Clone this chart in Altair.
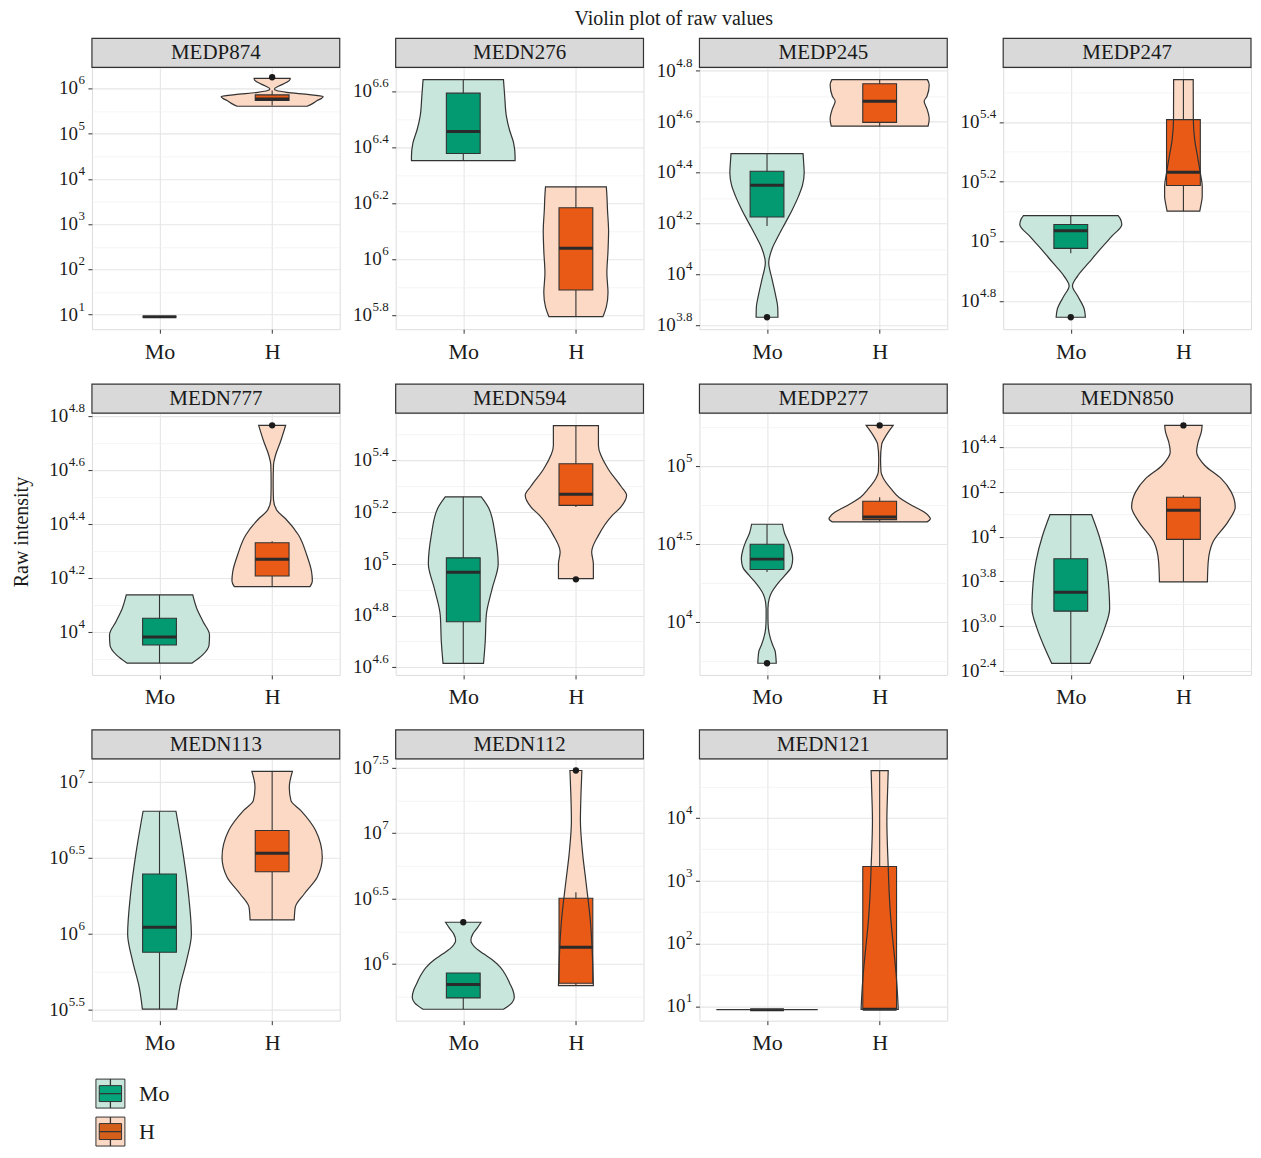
import altair as alt
import pandas as pd

FONT = "Liberation Serif"
TEXT = "#1A1A1A"
DARK = "#333333"

TITLE = "Violin plot of raw values"
Y_TITLE = "Raw intensity"
GROUPS = ["Mo", "H"]
GROUP_POS = [1, 2]
BOX_FILL = ["#039A72", "#E95A17"]
VIOLIN_FILL = ["#C8E6DC", "#FBD9C5"]
LEGEND_BOX_FILL = ["#04A57A", "#D45F1B"]
LEGEND_KEY_FILL = ["#C8E6DC", "#FBD9C5"]

PANELS = ["MEDP874", "MEDN276", "MEDP245", "MEDP247",
          "MEDN777", "MEDN594", "MEDP277", "MEDN850",
          "MEDN113", "MEDN112", "MEDN121"]

# ---------------- MEDP874 ----------------
MEDP874_RANGE = [0.68, 6.46]
MEDP874_TICKS = [1, 2, 3, 4, 5, 6]
MEDP874_TICK_EXP = ["1", "2", "3", "4", "5", "6"]
MEDP874_MINOR = [1.5, 2.5, 3.5, 4.5, 5.5]
MEDP874_MO_VIOLIN = []
MEDP874_H_VIOLIN = [(5.603, 0.31), (5.65, 0.35), (5.728, 0.40), (5.78, 0.44), (5.816, 0.453),
                    (5.86, 0.33), (5.91, 0.13), (5.95, 0.04), (5.985, 0.02), (6.05, 0.06),
                    (6.13, 0.13), (6.206, 0.16), (6.22, 0.16)]
MEDP874_MO_BOX = [0.956, 0.956, 0.956, 0.956, 0.956]
MEDP874_H_BOX = [5.618, 5.728, 5.765, 5.853, 5.95]
MEDP874_MO_OUT = []
MEDP874_H_OUT = [6.243]
MEDP874_MO_FLAT = []

# ---------------- MEDN276 ----------------
MEDN276_RANGE = [5.75, 6.686]
MEDN276_TICKS = [5.8, 6.0, 6.2, 6.4, 6.6]
MEDN276_TICK_EXP = ["5.8", "6", "6.2", "6.4", "6.6"]
MEDN276_MINOR = [5.9, 6.1, 6.3, 6.5]
MEDN276_MO_VIOLIN = [(6.353, 0.46), (6.368, 0.46), (6.416, 0.447), (6.463, 0.41),
                     (6.511, 0.383), (6.582, 0.368), (6.642, 0.357)]
MEDN276_H_VIOLIN = [(5.795, 0.24), (5.83, 0.27), (5.88, 0.285), (5.95, 0.275), (6.03, 0.285),
                    (6.10, 0.29), (6.18, 0.28), (6.23, 0.275), (6.259, 0.27)]
MEDN276_MO_BOX = [6.353, 6.378, 6.457, 6.594, 6.642]
MEDN276_H_BOX = [5.795, 5.890, 6.039, 6.184, 6.259]
MEDN276_MO_OUT = []
MEDN276_H_OUT = []
MEDN276_MO_FLAT = []

# ---------------- MEDP245 ----------------
MEDP245_RANGE = [3.784, 4.813]
MEDP245_TICKS = [3.8, 4.0, 4.2, 4.4, 4.6, 4.8]
MEDP245_TICK_EXP = ["3.8", "4", "4.2", "4.4", "4.6", "4.8"]
MEDP245_MINOR = [3.9, 4.1, 4.3, 4.5, 4.7]
MEDP245_MO_VIOLIN = [(3.831, 0.097), (3.87, 0.095), (3.92, 0.075), (3.98, 0.045), (4.046, 0.015),
                     (4.10, 0.045), (4.15, 0.10), (4.20, 0.16), (4.25, 0.22), (4.307, 0.28),
                     (4.35, 0.315), (4.40, 0.33), (4.44, 0.325), (4.474, 0.32)]
MEDP245_H_VIOLIN = [(4.582, 0.43), (4.61, 0.44), (4.65, 0.42), (4.68, 0.395), (4.70, 0.42),
                    (4.745, 0.44), (4.765, 0.424)]
MEDP245_MO_BOX = [4.19, 4.225, 4.350, 4.405, 4.474]
MEDP245_H_BOX = [4.582, 4.597, 4.680, 4.749, 4.765]
MEDP245_MO_OUT = [3.831]
MEDP245_H_OUT = []
MEDP245_MO_FLAT = []

# ---------------- MEDP247 ----------------
MEDP247_RANGE = [4.705, 5.583]
MEDP247_TICKS = [4.8, 5.0, 5.2, 5.4]
MEDP247_TICK_EXP = ["4.8", "5", "5.2", "5.4"]
MEDP247_MINOR = [4.9, 5.1, 5.3, 5.5]
MEDP247_MO_VIOLIN = [(4.745, 0.13), (4.772, 0.12), (4.817, 0.06), (4.85, 0.015), (4.883, 0.06),
                     (4.928, 0.16), (4.973, 0.26), (5.017, 0.365), (5.056, 0.453), (5.075, 0.44),
                     (5.086, 0.42)]
MEDP247_H_VIOLIN = [(5.101, 0.145), (5.12, 0.155), (5.15, 0.167), (5.185, 0.167), (5.229, 0.15),
                    (5.285, 0.125), (5.341, 0.10), (5.408, 0.088), (5.542, 0.087)]
MEDP247_MO_BOX = [4.96, 4.976, 5.035, 5.056, 5.086]
MEDP247_H_BOX = [5.101, 5.187, 5.231, 5.408, 5.542]
MEDP247_MO_OUT = [4.745]
MEDP247_H_OUT = []
MEDP247_MO_FLAT = []

# ---------------- MEDN777 ----------------
MEDN777_RANGE = [3.842, 4.811]
MEDN777_TICKS = [4.0, 4.2, 4.4, 4.6, 4.8]
MEDN777_TICK_EXP = ["4", "4.2", "4.4", "4.6", "4.8"]
MEDN777_MINOR = [3.9, 4.1, 4.3, 4.5, 4.7]
MEDN777_MO_VIOLIN = [(3.886, 0.29), (3.916, 0.383), (3.953, 0.44), (3.99, 0.444), (4.04, 0.386),
                     (4.089, 0.33), (4.138, 0.295)]
MEDN777_H_VIOLIN = [(4.169, 0.336), (4.19, 0.357), (4.224, 0.35), (4.286, 0.307), (4.36, 0.234),
                    (4.421, 0.117), (4.45, 0.044), (4.49, 0.012), (4.55, 0.009), (4.62, 0.012),
                    (4.655, 0.03), (4.704, 0.073), (4.766, 0.12)]
MEDN777_MO_BOX = [3.886, 3.953, 3.982, 4.052, 4.138]
MEDN777_H_BOX = [4.169, 4.208, 4.270, 4.331, 4.337]
MEDN777_MO_OUT = []
MEDN777_H_OUT = [4.766]
MEDN777_MO_FLAT = []

# ---------------- MEDN594 ----------------
MEDN594_RANGE = [4.570, 5.583]
MEDN594_TICKS = [4.6, 4.8, 5.0, 5.2, 5.4]
MEDN594_TICK_EXP = ["4.6", "4.8", "5", "5.2", "5.4"]
MEDN594_MINOR = [4.7, 4.9, 5.1, 5.3, 5.5]
MEDN594_MO_VIOLIN = [(4.615, 0.18), (4.699, 0.195), (4.80, 0.204), (4.905, 0.257), (5.0, 0.31),
                     (5.11, 0.284), (5.214, 0.228), (5.259, 0.16)]
MEDN594_H_VIOLIN = [(4.943, 0.155), (5.0, 0.155), (5.046, 0.14), (5.11, 0.2), (5.188, 0.325),
                    (5.22, 0.4), (5.265, 0.45), (5.30, 0.4), (5.368, 0.285), (5.458, 0.2),
                    (5.535, 0.2)]
MEDN594_MO_BOX = [4.615, 4.776, 4.967, 5.023, 5.259]
MEDN594_H_BOX = [5.22, 5.226, 5.269, 5.387, 5.535]
MEDN594_MO_OUT = []
MEDN594_H_OUT = [4.94]
MEDN594_MO_FLAT = []

# ---------------- MEDP277 ----------------
MEDP277_RANGE = [3.658, 5.34]
MEDP277_TICKS = [4.0, 4.5, 5.0]
MEDP277_TICK_EXP = ["4", "4.5", "5"]
MEDP277_MINOR = [3.75, 4.25, 4.75, 5.25]
MEDP277_MO_VIOLIN = [(3.733, 0.082), (3.808, 0.073), (3.85, 0.05), (3.893, 0.03), (3.957, 0.012),
                     (4.02, 0.008), (4.085, 0.008), (4.15, 0.02), (4.192, 0.044), (4.24, 0.09),
                     (4.299, 0.16), (4.35, 0.215), (4.406, 0.228), (4.46, 0.215), (4.513, 0.19),
                     (4.57, 0.155), (4.626, 0.137)]
MEDP277_H_VIOLIN = [(4.641, 0.42), (4.662, 0.45), (4.675, 0.44), (4.705, 0.395), (4.73, 0.33),
                    (4.769, 0.234), (4.80, 0.17), (4.855, 0.10), (4.919, 0.035), (4.962, 0.012),
                    (5.047, 0.008), (5.14, 0.018), (5.197, 0.058), (5.261, 0.12)]
MEDP277_MO_BOX = [4.32, 4.335, 4.402, 4.498, 4.626]
MEDP277_H_BOX = [4.645, 4.656, 4.673, 4.774, 4.80]
MEDP277_MO_OUT = [3.733]
MEDP277_H_OUT = [5.261]
MEDP277_MO_FLAT = []

# ---------------- MEDN850 (axis labels are not evenly spaced values) ----------------
MEDN850_RANGE = [3.382, 4.552]
MEDN850_TICKS = [3.4, 3.6, 3.8, 4.0, 4.2, 4.4]
MEDN850_TICK_EXP = ["2.4", "3.0", "3.8", "4", "4.2", "4.4"]
MEDN850_MINOR = [3.5, 3.7, 3.9, 4.1, 4.3, 4.5]
MEDN850_MO_VIOLIN = [(3.434, 0.17), (3.501, 0.23), (3.59, 0.30), (3.679, 0.345), (3.754, 0.34),
                     (3.887, 0.31), (4.006, 0.25), (4.098, 0.185)]
MEDN850_H_VIOLIN = [(3.798, 0.213), (3.887, 0.22), (3.977, 0.263), (4.066, 0.395), (4.133, 0.46),
                    (4.2, 0.424), (4.259, 0.336), (4.318, 0.19), (4.378, 0.117), (4.422, 0.13),
                    (4.47, 0.16), (4.497, 0.166)]
MEDN850_MO_BOX = [3.434, 3.667, 3.752, 3.901, 4.098]
MEDN850_H_BOX = [3.798, 3.988, 4.118, 4.176, 4.185]
MEDN850_MO_OUT = []
MEDN850_H_OUT = [4.497]
MEDN850_MO_FLAT = []

# ---------------- MEDN113 ----------------
MEDN113_RANGE = [5.43, 7.154]
MEDN113_TICKS = [5.5, 6.0, 6.5, 7.0]
MEDN113_TICK_EXP = ["5.5", "6", "6.5", "7"]
MEDN113_MINOR = [5.75, 6.25, 6.75]
MEDN113_MO_VIOLIN = [(5.506, 0.152), (5.649, 0.18), (5.825, 0.24), (6.0, 0.283), (6.264, 0.257),
                     (6.528, 0.21), (6.809, 0.146)]
MEDN113_H_VIOLIN = [(6.093, 0.196), (6.176, 0.205), (6.264, 0.284), (6.374, 0.40), (6.506, 0.445),
                    (6.682, 0.386), (6.813, 0.255), (6.879, 0.167), (6.967, 0.152), (7.072, 0.18)]
MEDN113_MO_BOX = [5.506, 5.88, 6.045, 6.396, 6.809]
MEDN113_H_BOX = [6.093, 6.411, 6.532, 6.682, 7.072]
MEDN113_MO_OUT = []
MEDN113_H_OUT = []
MEDN113_MO_FLAT = []

# ---------------- MEDN112 ----------------
MEDN112_RANGE = [5.566, 7.569]
MEDN112_TICKS = [6.0, 6.5, 7.0, 7.5]
MEDN112_TICK_EXP = ["6", "6.5", "7", "7.5"]
MEDN112_MINOR = [5.75, 6.25, 6.75, 7.25]
MEDN112_MO_VIOLIN = [(5.653, 0.357), (5.70, 0.43), (5.745, 0.453), (5.80, 0.44), (5.847, 0.415),
                     (5.91, 0.38), (5.974, 0.33), (6.03, 0.26), (6.077, 0.18), (6.13, 0.10),
                     (6.179, 0.068), (6.23, 0.085), (6.27, 0.12), (6.319, 0.158)]
MEDN112_H_VIOLIN = [(5.834, 0.155), (5.90, 0.153), (6.077, 0.146), (6.332, 0.128), (6.638, 0.088),
                    (6.842, 0.06), (7.097, 0.04), (7.30, 0.045), (7.48, 0.053)]
MEDN112_MO_BOX = [5.653, 5.740, 5.842, 5.931, 5.931]
MEDN112_H_BOX = [5.834, 5.852, 6.128, 6.503, 6.548]
MEDN112_MO_OUT = [6.319]
MEDN112_H_OUT = [7.48]
MEDN112_MO_FLAT = []

# ---------------- MEDN121 ----------------
MEDN121_RANGE = [0.771, 4.94]
MEDN121_TICKS = [1, 2, 3, 4]
MEDN121_TICK_EXP = ["1", "2", "3", "4"]
MEDN121_MINOR = [1.5, 2.5, 3.5, 4.5]
MEDN121_MO_VIOLIN = []
MEDN121_H_VIOLIN = [(0.952, 0.165), (1.14, 0.16), (1.515, 0.146), (1.94, 0.123), (2.364, 0.10),
                    (2.79, 0.085), (3.214, 0.076), (3.958, 0.064), (4.4, 0.07), (4.754, 0.076)]
MEDN121_MO_BOX = [0.946, 0.946, 0.946, 0.946, 0.946]
MEDN121_H_BOX = [0.952, 0.952, 0.952, 3.225, 4.754]
MEDN121_MO_OUT = []
MEDN121_H_OUT = []
MEDN121_MO_FLAT = [(0.946, 0.45)]

G = globals()
PANEL_DATA = {
    p: dict(
        rng=G[p + "_RANGE"], ticks=G[p + "_TICKS"], exp=G[p + "_TICK_EXP"], minor=G[p + "_MINOR"],
        violins=[G[p + "_MO_VIOLIN"], G[p + "_H_VIOLIN"]],
        boxes=[G[p + "_MO_BOX"], G[p + "_H_BOX"]],
        outliers=[G[p + "_MO_OUT"], G[p + "_H_OUT"]],
        flats=[G[p + "_MO_FLAT"], []],
    )
    for p in PANELS
}

W, H = 248, 262
BOX_HALF = 0.15
BASE_FS = 19      # "10" of tick labels
EXP_FS = 13       # exponent of tick labels
EXP_RIGHT = -7    # right edge of the exponent, px from the plot's left edge


def exp_width(s):
    return sum(EXP_FS * (0.25 if c == "." else 0.5) for c in s)


def panel_chart(name, d, with_y_title=False, with_legend=False):
    majors = list(d["ticks"])
    minors = list(d["minor"])
    minor_test = f"indexof({minors}, datum.value) >= 0"

    yscale = alt.Scale(domain=list(d["rng"]), nice=False, zero=False)
    xscale = alt.Scale(domain=[0.4, 2.6], nice=False, zero=False)
    yaxis = alt.Axis(
        values=majors + minors, labels=False, tickColor=DARK, tickSize=4,
        tickOpacity={"condition": {"test": minor_test, "value": 0}, "value": 1},
        gridColor={"condition": {"test": minor_test, "value": "#F1F1F1"}, "value": "#E6E6E6"},
        gridWidth={"condition": {"test": minor_test, "value": 0.8}, "value": 1.1},
        domain=False,
    )
    xaxis = alt.Axis(
        values=[1, 2], labelExpr="datum.value == 1 ? 'Mo' : 'H'", labelFont=FONT,
        labelFontSize=22, labelColor=TEXT, labelFlush=False, labelPadding=8,
        tickColor=DARK, tickSize=4, gridColor="#E6E6E6", gridWidth=1.1, domain=False,
    )

    def Y(f):
        return alt.Y(f, type="quantitative", scale=yscale, axis=yaxis, title=None)

    def X(f):
        return alt.X(f, type="quantitative", scale=xscale, axis=xaxis, title=None)

    vrows, brows, orows, frows = [], [], [], []
    for g, pos, vf, bf, pts, st, outs, flats in zip(
            GROUPS, GROUP_POS, VIOLIN_FILL, BOX_FILL,
            d["violins"], d["boxes"], d["outliers"], d["flats"]):
        for y, w in pts:
            vrows.append(dict(group=g, y=y, xl=pos - w, xr=pos + w, fill=vf))
        wlo, q1, med, q3, whi = st
        brows.append(dict(group=g, pos=pos, bl=pos - BOX_HALF, br=pos + BOX_HALF,
                          wlo=wlo, q1=q1, med=med, q3=q3, whi=whi, fill=bf))
        for y in outs:
            orows.append(dict(group=g, pos=pos, y=y))
        for y, w in flats:
            frows.append(dict(group=g, y=y, xl=pos - w, xr=pos + w))

    vdf = pd.DataFrame(vrows)
    bdf = pd.DataFrame(brows)
    sdf = pd.DataFrame({"name": [name]})
    tdf = pd.DataFrame({"y": majors, "exp": d["exp"], "base": ["10"] * len(majors),
                        "n": [len(e) for e in d["exp"]]})

    strip_rect = alt.Chart(sdf).mark_rect(fill="#D9D9D9", stroke=DARK, strokeWidth=1.2).encode(
        x=alt.value(0), x2=alt.value(W), y=alt.value(-29), y2=alt.value(0))
    strip_text = alt.Chart(sdf).mark_text(font=FONT, fontSize=21, color=TEXT, baseline="middle").encode(
        x=alt.value(W / 2), y=alt.value(-14), text="name:N")

    violin_fill = alt.Chart(vdf).mark_area(orient="horizontal", interpolate="monotone", strokeWidth=0).encode(
        y=Y("y"), x=X("xl"), x2="xr", fill=alt.Fill("fill:N", scale=None), detail="group:N")
    whisker = alt.Chart(bdf).mark_rule(color=DARK, strokeWidth=1.1).encode(
        x=X("pos"), y=Y("wlo"), y2="whi")
    box = alt.Chart(bdf).mark_rect(stroke=DARK, strokeWidth=1.1).encode(
        x=X("bl"), x2="br", y=Y("q1"), y2="q3", fill=alt.Fill("fill:N", scale=None))
    median = alt.Chart(bdf).mark_rule(color="#2A2A2A", strokeWidth=3).encode(
        x=X("bl"), x2="br", y=Y("med"))
    violin_line = alt.Chart(vdf).mark_area(
        orient="horizontal", interpolate="monotone", fillOpacity=0, stroke=DARK, strokeWidth=1.2
    ).encode(y=Y("y"), x=X("xl"), x2="xr", detail="group:N")

    # tick labels 10^e: exponent as raised smaller text, base "10" before it
    exp_text = alt.Chart(tdf).mark_text(
        font=FONT, fontSize=EXP_FS, color=TEXT, align="right", baseline="alphabetic", dy=-4
    ).encode(x=alt.value(EXP_RIGHT), y=Y("y"), text="exp:N")
    layers = [strip_rect, strip_text, violin_fill, whisker, box, median, violin_line, exp_text]
    for n in sorted(set(tdf["n"])):
        layers.append(alt.Chart(tdf).transform_filter(f"datum.n == {n}").mark_text(
            font=FONT, fontSize=BASE_FS, color=TEXT, align="right", baseline="middle"
        ).encode(x=alt.value(EXP_RIGHT - exp_width("0" * (n // 2 + n % 2)) - exp_width("." * (n // 2)) - 0.5),
                 y=Y("y"), text="base:N"))

    if orows:
        layers.append(alt.Chart(pd.DataFrame(orows)).mark_circle(size=40, color="#1A1A1A", opacity=1).encode(
            x=X("pos"), y=Y("y")))
    if frows:
        layers.append(alt.Chart(pd.DataFrame(frows)).mark_rule(color=DARK, strokeWidth=1.2).encode(
            x=X("xl"), x2="xr", y=Y("y")))
    if with_y_title:
        layers.append(alt.Chart(pd.DataFrame({"t": [Y_TITLE]})).mark_text(
            font=FONT, fontSize=20, color=TEXT, angle=270, baseline="middle"
        ).encode(x=alt.value(-70), y=alt.value(119), text="t:N"))
    if with_legend:
        for i, (g, light, dark) in enumerate(zip(GROUPS, LEGEND_KEY_FILL, LEGEND_BOX_FILL)):
            ldf = pd.DataFrame({"group": [g], "light": [light], "dark": [dark]})
            ky = alt.value(H + 73 + 38 * i)
            kx = alt.value(18.5)
            layers += [
                alt.Chart(ldf).mark_point(shape="M-1,-1H1V1H-1Z", size=841, filled=True, stroke=DARK,
                                          strokeWidth=1, opacity=1).encode(
                    x=kx, y=ky, fill=alt.Fill("light:N", scale=None)),
                alt.Chart(ldf).mark_point(shape="M-0.77,-0.55H0.77V0.55H-0.77Z", size=841, filled=True,
                                          stroke=DARK, strokeWidth=1, opacity=1).encode(
                    x=kx, y=ky, fill=alt.Fill("dark:N", scale=None)),
                alt.Chart(ldf).mark_point(shape="M0,-1V-0.55M0,0.55V1M-0.77,0H0.77", size=841, filled=False,
                                          color=DARK, strokeWidth=1.3, opacity=1).encode(x=kx, y=ky),
                alt.Chart(ldf).mark_text(align="left", baseline="middle", font=FONT, fontSize=22,
                                         color=TEXT).encode(x=alt.value(47), y=ky, text="group:N"),
            ]
    return alt.layer(*layers).properties(width=W, height=H)


charts = [panel_chart(p, PANEL_DATA[p], with_y_title=(p == "MEDN777"), with_legend=(p == "MEDN113"))
          for p in PANELS]

chart = alt.concat(*charts, columns=4, spacing={"row": 84, "column": 56}, bounds="flush").properties(
    title=alt.TitleParams(TITLE, font=FONT, fontSize=20, fontWeight="normal", color=TEXT,
                          anchor="middle", frame="bounds", dx=42, offset=8),
    padding={"left": 3, "top": 0, "right": 0, "bottom": 0},
).configure_view(stroke=DARK, strokeWidth=1.2).configure(background="white")

chart.save("out.html", embed_options={"renderer": "svg", "actions": False})
